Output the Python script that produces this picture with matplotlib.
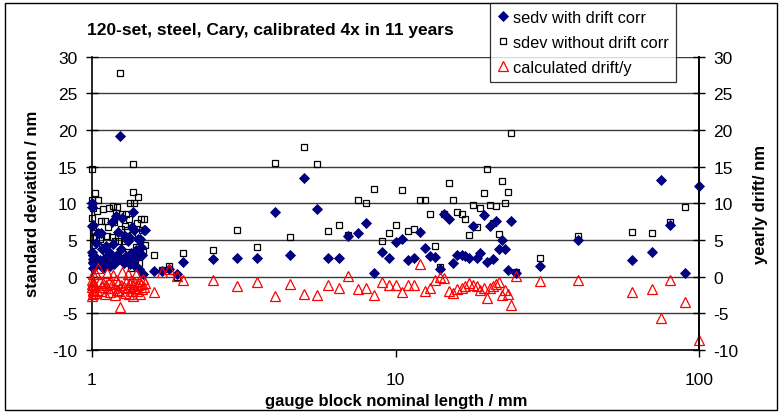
import numpy as np
import matplotlib
matplotlib.use("Agg")
import matplotlib.pyplot as plt
from matplotlib.patches import Rectangle

plt.rcParams['font.family'] = ['Liberation Sans', 'DejaVu Sans']

nan = np.nan

# nominal lengths of the gauge blocks (mm)
x_nom = [1.0005, 1.001, 1.002, 1.003, 1.004, 1.005, 1.006, 1.007, 1.008, 1.009,
         1.01, 1.02, 1.03, 1.04, 1.05, 1.06, 1.07, 1.08, 1.09, 1.10,
         1.11, 1.12, 1.13, 1.14, 1.15, 1.16, 1.17, 1.18, 1.19, 1.20,
         1.21, 1.22, 1.23, 1.24, 1.25, 1.26, 1.27, 1.28, 1.29, 1.30,
         1.31, 1.32, 1.33, 1.34, 1.35, 1.36, 1.37, 1.38, 1.39, 1.40,
         1.41, 1.42, 1.43, 1.44, 1.45, 1.46, 1.47, 1.48, 1.49,
         1.6, 1.7, 1.8, 1.9, 2.0, 2.5, 3.0, 3.5,
         4.0, 4.5, 5.0, 5.5, 6.0, 6.5, 7.0, 7.5, 8.0, 8.5,
         9.0, 9.5, 10.0, 10.5, 11.0, 11.5, 12.0, 12.5, 13.0, 13.5,
         14.0, 14.5, 15.0, 15.5, 16.0, 16.5, 17.0, 17.5, 18.0, 18.5,
         19.0, 19.5, 20.0, 20.5, 21.0, 21.5, 22.0, 22.5, 23.0, 23.5,
         24.0, 25.0,
         30, 40, 60, 70, 75, 80, 90, 100]

# standard deviation with drift correction (nm)
sdev_corr = [10.0, 9.5, 6.9, 3.3, 2.4, 1.9, 7.1, 1.2, 3.0, 2.0,
             3.0, 2.5, 4.6, 1.9, 6.0, 2.2, 5.9, 3.7, 1.2, 2.1,
             4.2, 2.8, 2.0, 3.3, 1.5, 7.5, 4.4, 1.7, 2.6, 8.2,
             3.0, 6.1, 2.4, 19.1, 3.8, 8.0, 1.8, 5.5, 2.8, 2.6,
             4.9, 5.4, 1.7, 3.2, 6.8, 2.3, 8.8, 6.4, 1.4, 3.6,
             2.7, 5.1, 1.0, 5.1, 4.0, 2.9, 0.3, 6.4, 6.4,
             0.8, 0.7, 1.0, 0.3, 2.0, 2.35, 2.5, 2.6,
             8.8, 2.9, 13.5, 9.2, 2.5, 2.5, 5.6, 6.0, 7.3, 0.5,
             3.4, 2.6, 4.7, 5.1, 2.3, 2.5, 6.1, 3.9, 2.8, 2.7,
             1.0, 8.5, 7.9, 1.8, 2.9, 2.9, 2.8, 2.6, 6.9, 2.5,
             3.2, 8.4, 2.0, 6.9, 2.4, 7.6, 3.8, 5.0, 3.8, 0.9,
             7.6, 0.45,
             1.4, 5.0, 2.2, 3.3, 13.2, 7.1, 0.45, 12.3]

# standard deviation without drift correction (nm)
sdev_raw = [14.6, 10.5, 9.6, 8.0, 6.7, 5.2, 9.3, 2.8, 2.1, 4.3,
            6.2, 11.4, 5.3, 9.0, 10.5, 5.1, 7.6, 4.0, 9.2, 7.6,
            3.0, 5.5, 6.7, 9.3, 2.6, 5.4, 9.6, 7.5, 4.8, 8.7,
            9.5, 2.4, 4.8, 27.8, 6.5, 8.5, 4.8, 6.9, 8.5, 6.4,
            3.3, 7.8, 10.1, 1.2, 5.7, 11.6, 15.4, 10.0, 2.3, 4.1,
            7.3, 10.9, 1.9, 5.0, 7.9, 6.3, 3.4, 7.9, 4.3,
            2.9, 0.9, 1.4, 0.0, 3.2, 3.6, 6.4, 4.1,
            15.5, 5.4, 17.6, 15.3, 6.2, 7.1, 5.7, 10.5, 10.0, 11.9,
            4.9, 5.9, 7.1, 11.8, 6.2, 6.5, 10.4, 10.5, 8.5, 4.2,
            1.3, 8.5, 12.8, 10.5, 8.8, 8.5, 7.9, 5.7, 9.8, 6.8,
            9.4, 11.4, 14.6, 9.8, 7.3, 9.6, 5.8, 13.0, 10.0, 11.6,
            19.6, 0.6,
            2.5, 5.5, 6.1, 5.9, nan, 7.5, 9.5, nan]

# calculated drift per year (nm)
drift = [-0.5, -1.4, -2.6, -1.0, -2.0, -0.8, 0.3, -1.8, -1.2, -2.3,
         -1.0, -2.2, 0.4, -1.8, 1.2, -0.6, -2.0, -1.4, -0.9, -2.4,
         -1.2, 0.5, -1.6, -0.7, -2.1, -1.0, 0.2, -1.5, -2.5, -0.4,
         -1.8, -0.9, -2.0, -4.2, -1.1, 0.6, -1.4, -2.2, -0.8, -1.6,
         0.3, -2.3, -1.0, -0.5, -1.9, -1.3, -2.6, -0.7, -1.5, 0.4,
         -2.0, -1.2, -0.6, -2.4, -1.0, -1.7, -0.3, -1.4, -0.9,
         -2.1, 0.6, 1.0, 0.1, -0.5, -0.5, -1.3, -0.7,
         -2.7, -1.0, -2.4, -2.5, -1.1, -1.5, 0.1, -1.7, -1.5, -2.5,
         -0.8, -1.1, -1.1, -2.1, -1.1, -1.2, 1.7, -2.0, -1.5, -0.5,
         -0.1, -0.2, -2.0, -2.2, -1.7, -1.5, -1.3, -0.9, -1.1, -1.3,
         -1.8, -1.5, -2.9, -1.5, -1.3, -1.0, -0.8, -2.5, -1.8, -2.3,
         -3.8, 0.05,
         -0.65, -0.5, -2.1, -1.7, -5.6, -0.5, -3.4, -8.6]

labels = ["sedv with drift corr", "sdev without drift corr", "calculated drift/y"]
y_ticks = [-10, -5, 0, 5, 10, 15, 20, 25, 30]
x_ticks = [1, 10, 100]
x_ticklabels = ["1", "10", "100"]

W, H = 781, 414
fig = plt.figure(figsize=(W / 100, H / 100), dpi=100)
ax = fig.add_axes([92 / W, 1 - 351 / H, (699 - 92) / W, (351 - 57.5) / H])

ax.set_xscale('log')
ax.set_xlim(1, 100)
ax.set_ylim(-10, 30)

grid_c = '#3a3a3a'
for yv in y_ticks:
    ax.axhline(yv, color=grid_c, lw=1.0, zorder=1)

h2, = ax.plot(x_nom, sdev_raw, ls='none', marker='s', ms=4.3, mfc='none',
              mec='black', mew=0.9, clip_on=False, zorder=3, label=labels[1])
h1, = ax.plot(x_nom, sdev_corr, ls='none', marker='D', ms=4.7, mfc='#000080',
              mec='#000080', mew=0.6, clip_on=False, zorder=4, label=labels[0])
h3, = ax.plot(x_nom, drift, ls='none', marker='^', ms=6.6, mfc='none',
              mec='#ff0000', mew=0.9, clip_on=False, zorder=5, label=labels[2])

ax.spines['top'].set_visible(False)
for s in ['left', 'right', 'bottom']:
    ax.spines[s].set_linewidth(1.2)
    ax.spines[s].set_color('black')

ax.set_yticks(y_ticks)
ax.set_yticklabels([str(v) for v in y_ticks])
ax.set_xticks(x_ticks)
ax.set_xticklabels(x_ticklabels)
ax.xaxis.set_minor_locator(matplotlib.ticker.NullLocator())
ax.tick_params(axis='y', direction='inout', length=9, width=1, labelsize=12.5, pad=6)
ax.tick_params(axis='x', direction='out', length=5, width=1, labelsize=12.5, pad=11)

ax2 = ax.twinx()
ax2.set_ylim(-10, 30)
ax2.set_yticks(y_ticks)
ax2.set_yticklabels([str(v) for v in y_ticks])
ax2.tick_params(axis='y', direction='inout', length=9, width=1, labelsize=12.5, pad=6)
for s in ['top', 'left', 'bottom']:
    ax2.spines[s].set_visible(False)
ax2.spines['right'].set_linewidth(1.2)

fig.text(33 / W, 1 - 204 / H, "standard deviation / nm", rotation=90,
         ha='center', va='center', fontsize=12, fontweight='bold')
fig.text(761 / W, 1 - 204 / H, "yearly drift/ nm", rotation=90,
         ha='center', va='center', fontsize=12, fontweight='bold')
fig.text(396 / W, 1 - 401.5 / H, "gauge block nominal length / mm",
         ha='center', va='center', fontsize=12, fontweight='bold')
fig.text(87 / W, 1 - 30 / H, "120-set, steel, Cary, calibrated 4x in 11 years",
         ha='left', va='center', fontsize=12.5, fontweight='bold')

leg = fig.legend(handles=[h1, h2, h3], labels=labels, loc='upper left',
                 bbox_to_anchor=(490 / W, 1 - 4 / H), borderaxespad=0,
                 fontsize=11.8, frameon=True, fancybox=False, shadow=False,
                 handlelength=0.7, handletextpad=0.3, labelspacing=0.62,
                 borderpad=0.42)
leg.get_frame().set_edgecolor('black')
leg.get_frame().set_linewidth(0.9)
leg.set_zorder(10)

fig.add_artist(Rectangle((5 / W, 3 / H), (777 - 5) / W, (410 - 3) / H,
                         transform=fig.transFigure, fill=False,
                         edgecolor='black', lw=1.0, zorder=0))

fig.savefig("out.png", dpi=100)
